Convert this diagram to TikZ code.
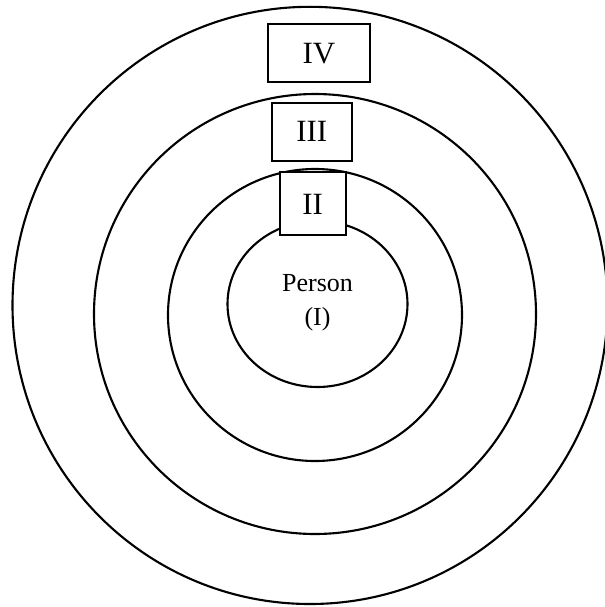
\documentclass[tikz,border=0pt]{standalone}
\usepackage{fontspec}
\setmainfont{Liberation Serif}
\usepackage{tikz}
\usetikzlibrary{positioning}
\definecolor{ringBlack}{HTML}{000000}

\tikzset{
  ring/.style={draw=ringBlack, line width=1.5pt},
  levelBox/.style={draw=ringBlack, fill=white, line width=1.4pt, inner sep=0pt,
                   font=\fontsize{22}{26}\selectfont}
}

\begin{document}
\begin{tikzpicture}[x=0.025cm, y=-0.025cm]
  \useasboundingbox (0,0) rectangle (605,607);
  % rings, outer to inner
  \draw[ring] (310,305.4) ellipse [x radius=297.5, y radius=298.6];
  \draw[ring] (315,314) ellipse [x radius=221, y radius=220];
  \draw[ring] (315,315) ellipse [x radius=147, y radius=146];
  \draw[ring] (317.5,304) ellipse [x radius=90, y radius=83];
  \node[align=center, font=\fontsize{18.5}{24.5}\selectfont] (person) at (317.5,303) {Person\\(I)};
  % level labels
  \node[levelBox, minimum width=2.55cm, minimum height=1.45cm] (levelIV) at (318.9,53.2) {IV};
  \node[levelBox, minimum width=2.0cm, minimum height=1.45cm] (levelIII) at (311.8,131.8) {III};
  \node[levelBox, minimum width=1.65cm, minimum height=1.575cm] (levelII) at (312.7,203.9) {II};
\end{tikzpicture}
\end{document}
